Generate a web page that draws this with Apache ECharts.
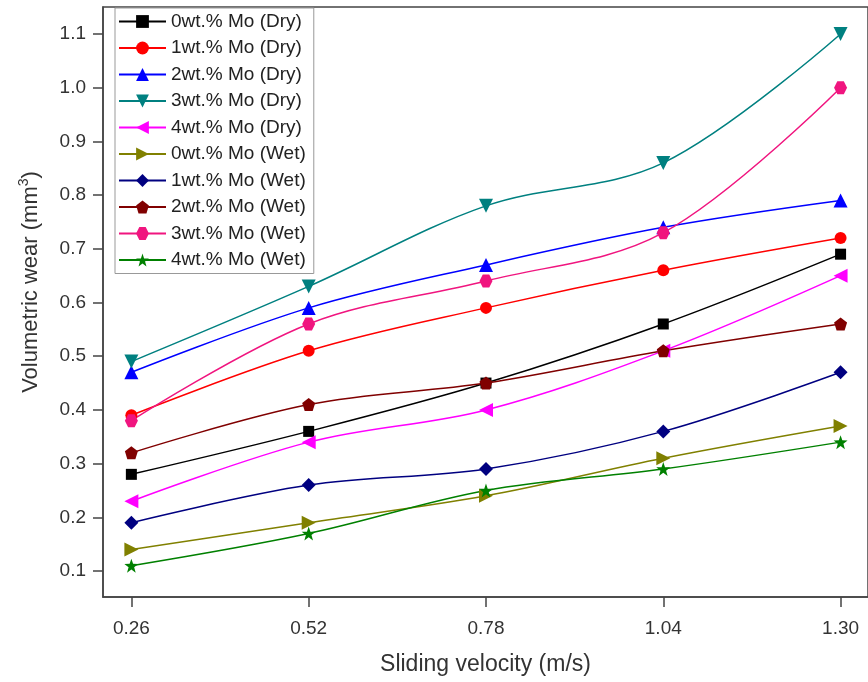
<!DOCTYPE html>
<html>
<head>
<meta charset="utf-8">
<script src="https://cdn.jsdelivr.net/npm/echarts@6/dist/echarts.min.js"></script>
<style>
html,body{margin:0;padding:0;background:#fff;}
#main{width:868px;height:682px;}
</style>
</head>
<body>
<div id="main"></div>
<script>
// sliding velocity (m/s)
var velocity = [0.26, 0.52, 0.78, 1.04, 1.30];
var xTicks = [0.26, 0.52, 0.78, 1.04, 1.30];
var yTicks = [0.1, 0.2, 0.3, 0.4, 0.5, 0.6, 0.7, 0.8, 0.9, 1.0, 1.1];

var names = ['0wt.% Mo (Dry)', '1wt.% Mo (Dry)', '2wt.% Mo (Dry)', '3wt.% Mo (Dry)', '4wt.% Mo (Dry)',
             '0wt.% Mo (Wet)', '1wt.% Mo (Wet)', '2wt.% Mo (Wet)', '3wt.% Mo (Wet)', '4wt.% Mo (Wet)'];

var dry0 = [0.28, 0.36, 0.45, 0.56, 0.69];
var dry1 = [0.39, 0.51, 0.59, 0.66, 0.72];
var dry2 = [0.47, 0.59, 0.67, 0.74, 0.79];
var dry3 = [0.49, 0.63, 0.78, 0.86, 1.10];
var dry4 = [0.23, 0.34, 0.40, 0.51, 0.65];
var wet0 = [0.14, 0.19, 0.24, 0.31, 0.37];
var wet1 = [0.19, 0.26, 0.29, 0.36, 0.47];
var wet2 = [0.32, 0.41, 0.45, 0.51, 0.56];
var wet3 = [0.38, 0.56, 0.64, 0.73, 1.00];
var wet4 = [0.11, 0.17, 0.25, 0.29, 0.34];
var values = [dry0, dry1, dry2, dry3, dry4, wet0, wet1, wet2, wet3, wet4];

var colors = ['#000000', '#ff0000', '#0000ff', '#008080', '#ff00ff',
              '#808000', '#000080', '#800000', '#f0157f', '#008000'];

var symbols = [
    'rect',
    'circle',
    'triangle',
    'path://M0,0L10,0L5,9Z',
    'path://M9,0L9,10L0,5Z',
    'path://M0,0L0,10L9,5Z',
    'diamond',
    'path://M5,0L9.76,3.45L7.94,9.05L2.06,9.05L0.24,3.45Z',
    'path://M2.5,0L7.5,0L10,4.33L7.5,8.66L2.5,8.66L0,4.33Z',
    'path://M5,0L6.176,3.382L9.755,3.455L6.902,5.618L7.939,9.045L5,7L2.061,9.045L3.098,5.618L0.245,3.455L3.824,3.382Z'
];
var sizes = [11, 12, 14, 14, 14, 14, 14, 13, 13, 14];

var series = names.map(function (n, i) {
    return {
        name: n,
        type: 'line',
        smooth: 0.35,
        symbol: symbols[i],
        symbolSize: sizes[i],
        showAllSymbol: true,
        lineStyle: {color: colors[i], width: 1.5},
        itemStyle: {color: colors[i]},
        data: velocity.map(function (v, j) { return [v, values[i][j]]; })
    };
});

var myChart = echarts.init(document.getElementById('main'));
var option = {
    animation: false,
    textStyle: {fontFamily: 'Liberation Sans, Arial, sans-serif'},
    grid: {
        left: 103, right: -3, top: 7, bottom: 85,
        show: true, borderColor: '#444', borderWidth: 1.5
    },
    legend: {
        orient: 'vertical',
        left: 115, top: 8,
        padding: [4, 8, 4, 3],
        itemWidth: 47, itemHeight: 16, itemGap: 7.5,
        borderColor: '#999', borderWidth: 1,
        textStyle: {fontSize: 19, color: '#222'},
        data: names
    },
    xAxis: {
        type: 'value',
        min: 0.2184, max: 1.3402,
        name: 'Sliding velocity (m/s)',
        nameLocation: 'middle',
        nameGap: 56,
        nameTextStyle: {fontSize: 23, color: '#333'},
        axisLine: {lineStyle: {color: '#444', width: 1.5}},
        axisTick: {show: true, length: 10, lineStyle: {color: '#444', width: 1.5}, customValues: xTicks},
        axisLabel: {fontSize: 19, color: '#333', margin: 22, customValues: xTicks,
            formatter: function (v) { return v.toFixed(2); }},
        splitLine: {show: false}
    },
    yAxis: {
        type: 'value',
        min: 0.0516, max: 1.1503,
        name: '{n|Volumetric wear (mm}{s|3}{n|)}',
        nameLocation: 'middle',
        nameGap: 61,
        nameTextStyle: {
            color: '#333',
            padding: [0, 0, 0, 40],
            rich: {
                n: {fontSize: 22, color: '#333', verticalAlign: 'bottom', lineHeight: 28},
                s: {fontSize: 14, color: '#333', verticalAlign: 'bottom', lineHeight: 28, padding: [0, 0, 11, 0]}
            }
        },
        axisLine: {show: true, lineStyle: {color: '#444', width: 1.5}},
        axisTick: {show: true, length: 10, lineStyle: {color: '#444', width: 1.5}, customValues: yTicks},
        axisLabel: {fontSize: 19, color: '#333', margin: 17, customValues: yTicks,
            formatter: function (v) { return v.toFixed(1); }},
        splitLine: {show: false}
    },
    color: colors,
    series: series
};
myChart.setOption(option);
</script>
</body>
</html>
